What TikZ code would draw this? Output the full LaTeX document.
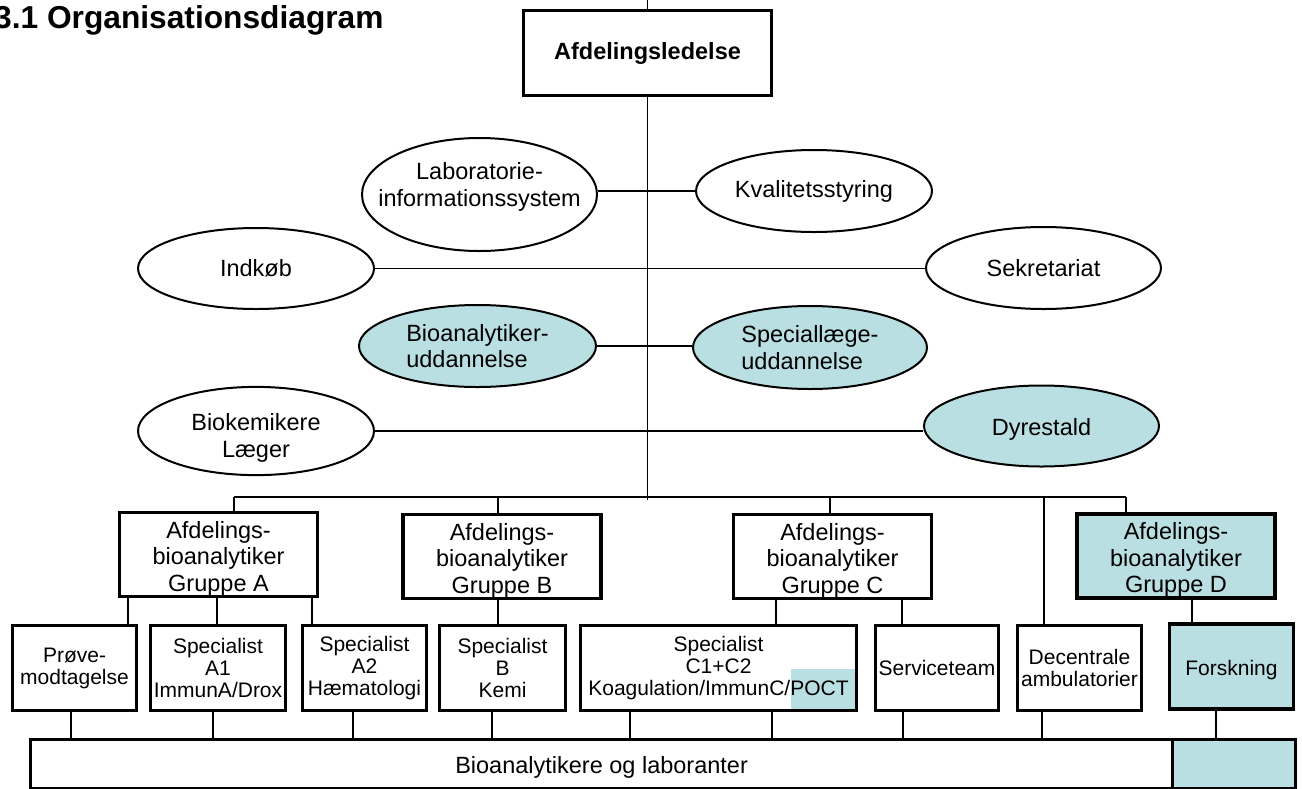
\documentclass[tikz,border=0pt]{standalone}
\usepackage{fontspec}
\setmainfont{Liberation Sans}
\usetikzlibrary{shapes.geometric}
\definecolor{paleteal}{RGB}{185,223,226}
% vertical link at a given x, from the bottom of one node to the top of another
\newcommand\droplink[3]{%
  \path (#1,0) coordinate (dropx);
  \draw[link] (dropx |- #2.south) -- (dropx |- #3.north);}
% invisible struts that give a text block extra room above or below
\newcommand\padtop[1]{\rule{0pt}{#1}}
\newcommand\padbot[1]{\rule[-#1]{0pt}{#1}}
\begin{document}
\begin{tikzpicture}[x=1pt,y=-1pt,
  link/.style={line width=1.6pt},
  box/.style={draw, rectangle, line width=3.3pt, fill=white, inner sep=0pt,
    align=center, font=\fontsize{23.5}{26.5}\selectfont},
  smallbox/.style={box, minimum height=85pt, font=\fontsize{21}{22}\selectfont},
  groupbox/.style={box, minimum width=198pt, minimum height=84pt},
  oval/.style={draw, ellipse, line width=2pt, fill=white, inner xsep=-30pt,
    inner ysep=0pt, align=center, font=\fontsize{23.5}{26.5}\selectfont},
  shaded/.style={fill=paleteal}]
\useasboundingbox (0,0) rectangle (1302,788);

% heading
\node[anchor=base west, inner sep=0pt, font=\bfseries\fontsize{31.7}{36}\selectfont]
  (title) at (-6,28) {3.1 Organisationsdiagram};

% management and staff functions
\node[box, font=\bfseries\fontsize{23.5}{26.5}\selectfont, minimum width=248pt,
  minimum height=85pt] (lead) at (647.5,53) {Afdelingsledelse};

\node[oval, minimum width=235pt, minimum height=113pt] (lis) at (479.5,194.5)
  {Laboratorie-\\informationssystem\padbot{20pt}};
\node[oval, minimum width=236pt, minimum height=82pt] (kval) at (814,191)
  {Kvalitetsstyring};
\node[oval, minimum width=236pt, minimum height=81pt] (indk) at (256,268.5)
  {Indkøb};
\node[oval, minimum width=235pt, minimum height=82pt] (sekr) at (1043.5,268)
  {Sekretariat};
\node[oval, shaded, align=left, minimum width=237pt, minimum height=82pt]
  (bioud) at (477.5,346) {Bioanalytiker-\\uddannelse};
\node[oval, shaded, align=left, minimum width=234pt, minimum height=83pt]
  (spud) at (810,347.5) {Speciallæge-\\uddannelse};
\node[oval, minimum width=236pt, minimum height=79pt] (biok) at (256,431)
  {\padtop{31pt}Biokemikere\\Læger};
\node[oval, shaded, minimum width=235pt, minimum height=81pt] (dyr) at (1041.5,426)
  {\padtop{23pt}Dyrestald};

% group leaders
\node[groupbox] (grpA) at (218.5,554.5)
  {\padtop{25pt}Afdelings-\\bioanalytiker\\Gruppe A};
\node[groupbox] (grpB) at (502,556.5)
  {\padtop{25pt}Afdelings-\\bioanalytiker\\Gruppe B};
\node[groupbox] (grpC) at (832.5,556.5)
  {\padtop{25pt}Afdelings-\\bioanalytiker\\Gruppe C};
\node[groupbox, shaded] (grpD) at (1176,556)
  {\padtop{25pt}Afdelings-\\bioanalytiker\\Gruppe D};

% sections
\node[smallbox, minimum width=124pt] (prove) at (74.5,668) {Prøve-\\modtagelse};
\node[smallbox, minimum width=135pt] (specA1) at (218,668)
  {Specialist\\A1\\ImmunA/Drox};
\node[smallbox, minimum width=124pt] (specA2) at (364.5,668)
  {Specialist\\A2\\Hæmatologi};
\node[smallbox, minimum width=126pt] (specB) at (502.5,668)
  {Specialist\\B\\Kemi};
\node[smallbox, minimum width=276pt,
  path picture={\fill[paleteal]
    ([xshift=-66pt,yshift=42pt]path picture bounding box.south east)
    rectangle (path picture bounding box.south east);}]
  (specC) at (718.5,668) {Specialist\\C1+C2\\Koagulation/ImmunC/POCT};
\node[smallbox, minimum width=123pt] (service) at (937,668) {Serviceteam};
\node[smallbox, minimum width=124pt] (decen) at (1079.5,668)
  {Decentrale\\ambulatorier};
\node[smallbox, shaded, minimum width=124pt] (forsk) at (1231.5,666.5)
  {\padtop{23pt}Forskning};

% staff bar
\node[box, minimum width=1141.8pt, minimum height=49.4pt, text height=23pt,
  text depth=5pt] (staff) at (601.6,764) {Bioanalytikere og laboranter};
\node[box, shaded, minimum width=122.9pt, minimum height=49.4pt]
  (staffD) at (1233.95,764) {};

% main trunk and bus
\coordinate (topend) at (647.5,0);
\coordinate (trunk) at (647.5,500);
\coordinate (busL) at (234,497);
\coordinate (busR) at (1126,497);
\draw[link] (topend) -- (lead.north);
\draw[link] (lead.south) -- (trunk);
\draw[link] (busL) -- (busR);

% staff functions on the trunk
\draw[link] (lis.east |- kval.west) -- (kval.west);
\draw[link] (indk.east) -- (indk.east -| sekr.west);
\draw[link] (bioud.east) -- (bioud.east -| spud.west);
\draw[link] (biok.east) -- (biok.east -| dyr.west);

% bus to group leaders
\draw[link] (busL) -- (busL |- grpA.north);
\coordinate (tapB) at (498,497);
\draw[link] (tapB) -- (tapB |- grpB.north);
\coordinate (tapC) at (830,497);
\draw[link] (tapC) -- (tapC |- grpC.north);
\draw[link] (busR) -- (busR |- grpD.north);
\coordinate (tapDec) at (1044,497);
\draw[link] (tapDec) -- (tapDec |- decen.north);

% group leaders to sections
\droplink{128}{grpA}{prove}
\droplink{217}{grpA}{specA1}
\droplink{312}{grpA}{specA2}
\droplink{498}{grpB}{specB}
\droplink{776}{grpC}{specC}
\droplink{902}{grpC}{service}
\droplink{1192}{grpD}{forsk}

% sections to staff
\droplink{71}{prove}{staff}
\droplink{213}{specA1}{staff}
\droplink{353}{specA2}{staff}
\droplink{492}{specB}{staff}
\droplink{630}{specC}{staff}
\droplink{772}{specC}{staff}
\droplink{903}{service}{staff}
\droplink{1042}{decen}{staff}
\droplink{1216}{forsk}{staffD}
\end{tikzpicture}
\end{document}
